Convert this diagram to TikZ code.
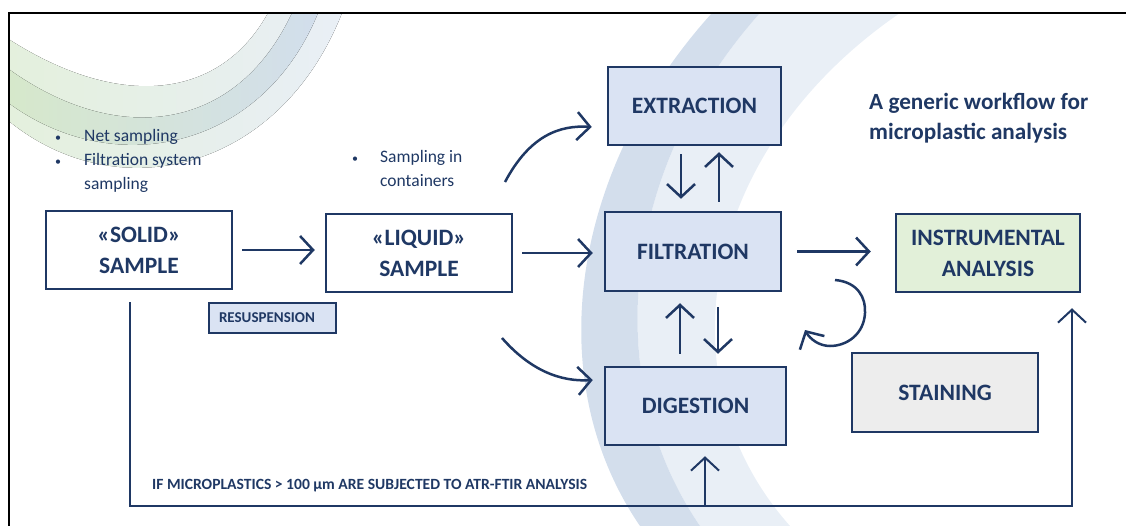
\documentclass[tikz,border=0pt]{standalone}
\usepackage{fontspec}
\setmainfont{Carlito}
\usepackage{xcolor}
\usepackage{tikz}
\usetikzlibrary{positioning,calc,arrows.meta}

\definecolor{navy}{HTML}{1F3864}
\definecolor{boxblue}{HTML}{DAE3F3}
\definecolor{boxgreen}{HTML}{E2F0D9}
\definecolor{boxgray}{HTML}{EDEDED}
\definecolor{swooshblue}{HTML}{D3DEEC}
\definecolor{swooshpale}{HTML}{E9EFF6}
\definecolor{swooshgreen}{HTML}{E4F0DD}
\definecolor{swooshmoss}{HTML}{D6E8CB}
\definecolor{swooshsky}{HTML}{D2DEEC}

\tikzset{
  procbox/.style={draw=navy, line width=2.5pt, text=navy, font=\fontsize{23.5}{31}\selectfont\bfseries, align=center, inner sep=0pt},
  flow/.style={draw=navy, line width=2.5pt, -{Straight Barb[length=13pt,width=28pt]}},
  note/.style={text=navy, font=\fontsize{17.5}{24}\selectfont, inner sep=0pt},
}
\newcommand{\dotmark}{{\fontsize{12}{12}\selectfont\textbullet}}

\begin{document}
\begin{tikzpicture}[x=1pt,y=-1pt]
    \useasboundingbox (0,0) rectangle (1126,526);

    % background swooshes
    \fill[left color=swooshgreen, right color=swooshpale] (10,40) .. controls (120,110) and (220,100) .. (268,13) -- (342,13) .. controls (280,170) and (120,210) .. (10,122) -- cycle;
    \fill[left color=swooshmoss, right color=swooshsky] (10,70) .. controls (115,145) and (235,135) .. (292,13) -- (318,13) .. controls (262,150) and (115,180) .. (10,104) -- cycle;
    \fill[swooshpale] (900,13) .. controls (700,150) and (660,380) .. (790,526) -- (700,526) .. controls (600,380) and (620,170) .. (760,13) -- cycle;
    \fill[swooshblue] (760,13) .. controls (620,170) and (600,380) .. (700,526) -- (640,526) .. controls (540,380) and (570,170) .. (712,13) -- cycle;

    % frame
    \draw[line width=2pt] (9,526) -- (9,13) -- (1126,13);

    % samples
    \node[procbox, fill=white, minimum width=186pt, minimum height=78pt] (solid) at (139,250) {«SOLID»\\SAMPLE};
    \node[procbox, fill=white, minimum width=186pt, minimum height=78pt] (liquid) at (419,253) {«LIQUID»\\SAMPLE};
    \node[procbox, fill=boxblue, line width=1.5pt, font=\fontsize{15}{18}\selectfont\bfseries, text width=107pt, align=left, inner xsep=10pt, minimum height=30pt] (resusp) at (272.5,318) {RESUSPENSION};

    % treatment steps
    \node[procbox, fill=boxblue, minimum width=173pt, minimum height=78pt] (extraction) at (694.5,106) {EXTRACTION};
    \node[procbox, fill=boxblue, minimum width=176pt, minimum height=79pt] (filtration) at (693,251.5) {FILTRATION};
    \node[procbox, fill=boxblue, minimum width=181pt, minimum height=78pt] (digestion) at (695.5,406) {DIGESTION};
    \node[procbox, fill=boxgreen, minimum width=184pt, minimum height=78pt] (instrumental) at (988,253) {INSTRUMENTAL\\ANALYSIS};
    \node[procbox, fill=boxgray, minimum width=186pt, minimum height=79pt] (staining) at (945,392.5) {STAINING};

    % notes
    \node[note, anchor=west] (solidnote) at (55,161) {\begin{tabular}{@{}p{29pt}@{}l@{}}\dotmark & Net sampling\\ \dotmark & Filtration system\\ & sampling\end{tabular}};
    \node[note, anchor=west] (liquidnote) at (352,170) {\begin{tabular}{@{}p{28pt}@{}l@{}}\dotmark & Sampling in\\ & containers\end{tabular}};
    \node[anchor=west, text=navy, font=\fontsize{23.2}{30}\selectfont\bfseries, align=left, inner sep=0pt] (title) at (869,118) {A generic workflow for\\microplastic analysis};
    \node[anchor=west, text=navy, font=\fontsize{15.6}{17}\selectfont\bfseries, inner sep=0pt] (ftirnote) at (152,486) {IF MICROPLASTICS > 100 µm ARE SUBJECTED TO ATR-FTIR ANALYSIS};

    % main flow
    \draw[flow, shorten <=9pt, shorten >=10pt] (solid.east) -- (solid.east -| liquid.west);
    \draw[flow, shorten <=9pt, shorten >=11pt] (liquid.east) -- (liquid.east -| filtration.west);
    \draw[flow, shorten <=15pt, shorten >=24pt] (filtration.east) -- (filtration.east -| instrumental.west);

    % branches to extraction and digestion
    \coordinate (upstart) at (505,182);
    \coordinate (downstart) at (502,338);
    \draw[flow] (upstart) .. controls (530,135) and (560,125) .. ([xshift=-15pt,yshift=-21pt]extraction.west);
    \draw[flow] (downstart) .. controls (530,370) and (560,382) .. ([xshift=-11pt,yshift=26pt]digestion.west);

    % exchanges with filtration
    \draw[flow, shorten <=8pt, shorten >=12pt] ([xshift=-13.5pt]extraction.south) -- ([xshift=-13.5pt]extraction.south |- filtration.north);
    \draw[flow, shorten <=9pt, shorten >=6pt] ([xshift=24.5pt]extraction.south |- filtration.north) -- ([xshift=24.5pt]extraction.south);
    \draw[flow, shorten <=12pt, shorten >=11pt] ([xshift=-13pt]filtration.south |- digestion.north) -- ([xshift=-13pt]filtration.south);
    \draw[flow, shorten <=15pt, shorten >=12pt] ([xshift=25pt]filtration.south) -- ([xshift=25pt]filtration.south |- digestion.north);

    % repeat cycle
    \coordinate (cyclestart) at (835,280);
    \coordinate (cycleend) at (805,330);
    \draw[flow] (cyclestart) .. controls (858,282) and (866,298) .. (865,313) .. controls (864,334) and (847,346) .. (830,346) .. controls (819,346) and (810,339) .. (cycleend);

    % direct route to instrumental analysis
    \coordinate (loopstart) at ([xshift=-9pt,yshift=-12pt]solid.south);
    \coordinate (base) at (130,506);
    \draw[flow, line width=2pt, shorten >=15pt] (loopstart) -- (base) -| ([xshift=84pt]instrumental.south);
    \draw[flow, line width=2pt, shorten >=10pt] ([xshift=9.5pt]digestion.south |- base) -- ([xshift=9.5pt]digestion.south);
\end{tikzpicture}
\end{document}
